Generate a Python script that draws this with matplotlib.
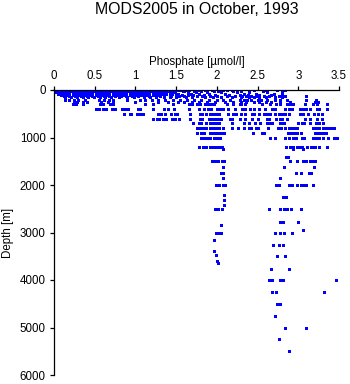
import matplotlib
matplotlib.use("Agg")
import matplotlib.pyplot as plt

plt.rcParams["font.family"] = ["Liberation Sans", "DejaVu Sans"]

# Phosphate (umol/l) observed at each depth level (m)
po4_0000 = [0.01, 0.08, 0.15, 0.22, 0.29, 0.36, 0.43, 0.50, 0.57, 0.64, 0.71, 0.78, 0.85, 0.92,
            0.99, 1.06, 1.13, 1.20, 1.27, 1.34, 1.41, 1.55, 1.62, 1.77, 1.94, 2.12, 2.45, 2.60, 2.84]
po4_0010 = [0.04, 0.11, 0.18, 0.25, 0.32, 0.39, 0.46, 0.53, 0.60, 0.67, 0.74, 0.81, 0.88, 0.95,
            1.02, 1.09, 1.16, 1.23, 1.30, 1.37, 1.44, 1.52, 1.66, 1.86, 2.08, 2.18, 2.74]
po4_0020 = [0.03, 0.10, 0.17, 0.24, 0.31, 0.38, 0.45, 0.52, 0.59, 0.66, 0.73, 0.80, 0.87, 0.94,
            1.01, 1.08, 1.15, 1.22, 1.29, 1.36, 1.43, 1.58, 1.72, 2.02, 2.30]
po4_0030 = [0.06, 0.13, 0.20, 0.27, 0.34, 0.41, 0.48, 0.55, 0.62, 0.69, 0.76, 0.83, 0.90, 0.97,
            1.04, 1.11, 1.18, 1.25, 1.32, 1.39, 1.46, 1.60, 1.80, 1.96, 2.20, 2.57]
po4_0050 = [0.02, 0.09, 0.16, 0.23, 0.30, 0.37, 0.44, 0.51, 0.58, 0.65, 0.72, 0.79, 0.86, 0.93,
            1.00, 1.07, 1.14, 1.21, 1.28, 1.35, 1.42, 1.49, 1.64, 1.74, 1.88, 2.05, 2.25, 2.40,
            2.62, 2.80]
po4_0075 = [0.05, 0.12, 0.19, 0.26, 0.33, 0.40, 0.47, 0.54, 0.61, 0.68, 0.75, 0.82, 0.89, 0.96,
            1.03, 1.10, 1.17, 1.24, 1.31, 1.38, 1.45, 1.52, 1.68, 1.78, 1.90, 2.10, 2.33, 2.48,
            2.70]
po4_0100 = [0.09, 0.16, 0.23, 0.30, 0.37, 0.44, 0.51, 0.58, 0.65, 0.72, 0.79, 0.86, 0.93, 1.00,
            1.07, 1.14, 1.21, 1.28, 1.35, 1.42, 1.50, 1.57, 1.64, 1.71, 1.84, 1.98, 2.15, 2.29,
            2.38, 2.52, 2.66, 2.80]
po4_0125 = [0.12, 0.19, 0.26, 0.33, 0.40, 0.47, 0.54, 0.61, 0.68, 0.75, 0.82, 0.89, 0.96, 1.03,
            1.10, 1.17, 1.30, 1.44, 1.53, 1.60, 1.75, 1.82, 1.92, 2.00, 2.12, 2.22, 2.31, 2.36,
            2.42, 2.48, 2.58, 2.64, 2.76, 2.84, 3.10]
po4_0150 = [0.14, 0.21, 0.28, 0.35, 0.42, 0.49, 0.56, 0.63, 0.70, 0.80, 0.90, 0.98, 1.10, 1.18,
            1.25, 1.35, 1.42, 1.50, 1.62, 1.70, 1.85, 1.95, 2.05, 2.18, 2.30, 2.39, 2.45, 2.52,
            2.60, 2.71, 2.80]
po4_0200 = [0.14, 0.18, 0.25, 0.30, 0.38, 0.55, 0.62, 0.68, 0.72, 0.90, 1.05, 1.12, 1.20, 1.28,
            1.36, 1.46, 1.55, 1.63, 1.72, 1.80, 1.90, 2.00, 2.08, 2.16, 2.29, 2.33, 2.37, 2.42,
            2.50, 2.54, 2.62, 2.71, 2.78, 2.86, 3.10, 3.22]
po4_0250 = [0.24, 0.28, 0.36, 0.40, 0.58, 0.66, 0.72, 1.00, 1.28, 1.40, 1.52, 1.60, 1.70, 1.78,
            1.88, 1.98, 2.10, 2.20, 2.30, 2.36, 2.45, 2.52, 2.60, 2.66, 2.78, 2.90, 3.21, 3.24]
po4_0300 = [0.23, 0.27, 0.35, 0.56, 0.60, 0.69, 0.73, 1.12, 1.21, 1.46, 1.66, 1.69, 1.75, 1.79,
            1.85, 1.89, 1.93, 1.97, 2.12, 2.20, 2.28, 2.30, 2.34, 2.55, 2.65, 2.73, 2.77, 2.86,
            2.90, 2.94, 3.08, 3.18, 3.23, 3.35]
po4_0400 = [0.51, 0.55, 0.60, 0.64, 0.71, 0.745, 0.83, 0.87, 0.91, 1.03, 1.06, 1.21, 1.35, 1.40,
            1.47, 1.66, 1.78, 1.84, 1.89, 1.93, 2.00, 2.04, 2.08, 2.14, 2.22, 2.31, 2.35, 2.41,
            2.45, 2.52, 2.59, 2.68, 2.71, 2.84, 2.88, 2.92, 3.02, 3.06, 3.09, 3.14, 3.23, 3.26,
            3.35]
po4_0500 = [0.86, 0.93, 0.95, 1.02, 1.06, 1.09, 1.28, 1.32, 1.36, 1.44, 1.48, 1.51, 1.67, 1.79,
            1.82, 1.87, 1.91, 1.95, 1.99, 2.03, 2.14, 2.20, 2.24, 2.30, 2.35, 2.43, 2.46, 2.52,
            2.58, 2.62, 2.65, 2.72, 2.76, 2.80, 2.84, 2.88, 3.02, 3.06, 3.12, 3.19, 3.24, 3.29]
po4_0600 = [1.22, 1.26, 1.29, 1.34, 1.38, 1.45, 1.49, 1.53, 1.67, 1.79, 1.82, 1.90, 1.94, 1.98,
            2.02, 2.05, 2.16, 2.19, 2.29, 2.35, 2.43, 2.51, 2.61, 2.64, 2.73, 2.77, 2.80, 2.86,
            3.08, 3.14, 3.23, 3.29]
po4_0700 = [1.71, 1.78, 1.81, 1.87, 1.91, 1.95, 1.99, 2.03, 2.18, 2.33, 2.40, 2.47, 2.53, 2.61,
            2.64, 2.68, 2.77, 2.80, 2.83, 3.00, 3.04, 3.07, 3.14, 3.22, 3.26, 3.30]
po4_0800 = [1.75, 1.79, 1.83, 1.87, 1.91, 1.95, 1.99, 2.03, 2.07, 2.18, 2.26, 2.33, 2.40, 2.42,
            2.48, 2.51, 2.63, 2.75, 2.79, 2.84, 2.88, 2.92, 2.96, 2.99, 3.18, 3.22, 3.26, 3.30,
            3.34, 3.38, 3.42, 3.44]
po4_0900 = [1.75, 1.80, 1.84, 1.91, 1.95, 1.99, 2.03, 2.06, 2.09, 2.44, 2.55, 2.58, 2.87, 2.91,
            2.95, 2.99, 3.03, 3.21, 3.24, 3.28, 3.31, 3.34]
po4_1000 = [1.80, 1.84, 1.88, 1.92, 1.96, 2.00, 2.04, 2.65, 2.71, 2.84, 2.88, 2.93, 2.97, 3.04,
            3.07, 3.18, 3.22, 3.26, 3.30, 3.37, 3.44, 3.47]
po4_1200 = [1.78, 1.83, 1.87, 1.91, 1.95, 1.99, 2.03, 2.06, 2.85, 2.90, 2.94, 2.98, 3.02, 3.05,
            3.11, 3.15, 3.18, 3.21, 3.25, 3.35]
po4_1250 = [2.08, 2.94, 3.06]
po4_1400 = [2.85, 2.87]
po4_1500 = [1.94, 1.98, 2.02, 2.06, 2.09, 2.90, 2.99, 3.06, 3.10, 3.14, 3.18, 3.21]
po4_1620 = [2.08, 2.82, 3.19]
po4_1750 = [2.05, 2.08, 2.97, 3.03, 3.13, 3.16]
po4_1850 = [2.07, 2.77]
po4_2000 = [1.99, 2.03, 2.07, 2.10, 2.73, 2.76, 2.88, 2.92, 2.99, 3.03, 3.06, 3.09, 3.18]
po4_2210 = [2.09]
po4_2260 = [2.81, 2.85]
po4_2320 = [2.09]
po4_2430 = [2.09]
po4_2500 = [1.98, 2.02, 2.06, 2.64, 2.78, 2.82, 2.86, 2.91, 3.03]
po4_2770 = [2.78, 2.81, 3.00]
po4_2850 = [2.05]
po4_2940 = [3.06]
po4_3000 = [1.99, 2.02, 2.05, 2.71, 2.77, 2.82, 2.92]
po4_3160 = [1.97]
po4_3260 = [2.69, 2.76, 2.81]
po4_3380 = [1.97]
po4_3480 = [1.99]
po4_3500 = [2.74, 2.84]
po4_3590 = [2.00]
po4_3650 = [2.01]
po4_3760 = [2.67, 2.89]
po4_4000 = [2.64, 2.68, 2.78, 2.81, 3.46]
po4_4260 = [2.68, 2.73, 3.32]
po4_4500 = [2.74, 2.78]
po4_4760 = [2.72]
po4_5000 = [2.84, 3.10]
po4_5250 = [2.76]
po4_5500 = [2.88]

profiles = [
    (0, po4_0000), (10, po4_0010), (20, po4_0020), (30, po4_0030), (50, po4_0050),
    (75, po4_0075), (100, po4_0100), (125, po4_0125), (150, po4_0150), (200, po4_0200),
    (250, po4_0250), (300, po4_0300), (400, po4_0400), (500, po4_0500), (600, po4_0600),
    (700, po4_0700), (800, po4_0800), (900, po4_0900), (1000, po4_1000), (1200, po4_1200),
    (1250, po4_1250), (1400, po4_1400), (1500, po4_1500), (1620, po4_1620), (1750, po4_1750),
    (1850, po4_1850), (2000, po4_2000), (2210, po4_2210), (2260, po4_2260), (2320, po4_2320),
    (2430, po4_2430), (2500, po4_2500), (2770, po4_2770), (2850, po4_2850), (2940, po4_2940),
    (3000, po4_3000), (3160, po4_3160), (3260, po4_3260), (3380, po4_3380), (3480, po4_3480),
    (3500, po4_3500), (3590, po4_3590), (3650, po4_3650), (3760, po4_3760), (4000, po4_4000),
    (4260, po4_4260), (4500, po4_4500), (4760, po4_4760), (5000, po4_5000), (5250, po4_5250),
    (5500, po4_5500),
]

x_ticks = [0, 0.5, 1, 1.5, 2, 2.5, 3, 3.5]
x_tick_labels = ["0", "0.5", "1", "1.5", "2", "2.5", "3", "3.5"]
y_ticks = [0, 1000, 2000, 3000, 4000, 5000, 6000]

xs, ys = [], []
for depth, values in profiles:
    xs.extend(values)
    ys.extend([depth] * len(values))

fig = plt.figure(figsize=(3.5, 3.84), dpi=100)
ax = fig.add_axes([54 / 350, 1 - 375 / 384, 285 / 350, 285 / 384])

ax.plot(xs, ys, linestyle="none", marker="s", markersize=2.16,
        markeredgewidth=0, color="#0000ff", antialiased=False)

ax.set_xlim(0, 3.5)
ax.set_ylim(6000, 0)
ax.xaxis.set_ticks_position("top")
ax.xaxis.set_label_position("top")
ax.set_xticks(x_ticks)
ax.set_xticklabels(x_tick_labels)
ax.set_yticks(y_ticks)

for side in ("right", "bottom"):
    ax.spines[side].set_visible(False)
for side in ("left", "top"):
    ax.spines[side].set_linewidth(0.9)
ax.tick_params(direction="out", length=3, width=0.9, pad=3, labelsize=8.3, colors="black")

ax.set_xlabel("Phosphate [\u00b5mol/l]", fontsize=8.3, labelpad=3)
ax.set_ylabel("Depth [m]", fontsize=8.3, labelpad=4)
fig.suptitle("MODS2005 in October, 1993", fontsize=11.4, x=196.5 / 350, y=1 - 2 / 384,
             va="top")

fig.savefig("out.png", dpi=100)
